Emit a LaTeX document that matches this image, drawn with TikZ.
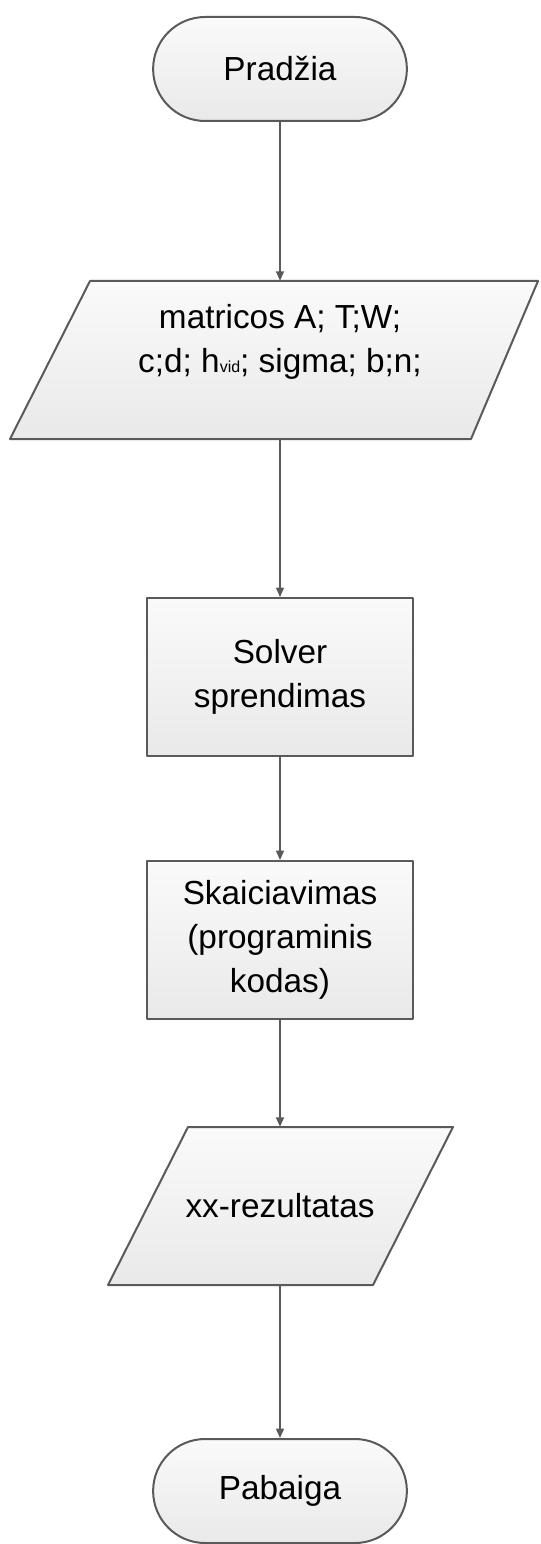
\documentclass[tikz,border=0pt]{standalone}
\usepackage{fontspec}
\setmainfont{Liberation Sans}
\usepackage{tikz}
\usetikzlibrary{arrows.meta,positioning,shapes.misc}
\definecolor{edgegray}{HTML}{5A5A5A}
\definecolor{filltop}{HTML}{FAFAFA}
\definecolor{fillbottom}{HTML}{E9E9E9}
\tikzset{
	shapeline/.style={draw=edgegray,line width=1.5pt,line join=round},
	shapefill/.style={top color=filltop,bottom color=fillbottom},
	flowtext/.style={align=center,font=\fontsize{25pt}{33pt}\selectfont},
	flow arrow/.style={draw=edgegray,line width=1.1pt,-{Triangle[length=7pt,width=6pt]}}
}

\begin{document}
\begin{tikzpicture}[x=0.75pt,y=-0.75pt,
			terminal/.style = {rounded rectangle, shapeline, shapefill, flowtext, minimum width = 197pt, minimum height = 78pt},
			process/.style = {rectangle, shapeline, shapefill, flowtext, minimum width = 199pt, minimum height = 118.5pt},
			io/.style = {rectangle, flowtext, inner sep = 0pt, minimum width = 300pt, minimum height = 118.5pt},
		]
			\useasboundingbox (0,0) rectangle (540,1544);

			% parallelograms drawn by corners
			\draw [shapeline, shapefill] (90,281) -- (538,281) -- (471,439) -- (10,439) -- cycle;
			\draw [shapeline, shapefill] (188,1127) -- (453,1127) -- (373,1285) -- (108,1285) -- cycle;

			\node [terminal] (start) at (280,69) {Pradžia};
			\node [io] (input) at (280,360) {matricos A; T;W;\\c;d; h{\fontsize{12pt}{12pt}\selectfont vid}; sigma; b;n;\\\mbox{}};
			\node [process] (solver) at (280,677) {Solver\\sprendimas};
			\node [process] (calc) at (280,940) {Skaiciavimas\\(programinis\\kodas)};
			\node [io, minimum width = 200pt] (output) at (280,1206) {xx-rezultatas};
			\node [terminal] (finish) at (280,1491) {Pabaiga};

			\foreach \from/\to in {start/input,input/solver,solver/calc,calc/output,output/finish}
				\draw [flow arrow] (\from.south) -- (\to.north);
		\end{tikzpicture}
\end{document}
